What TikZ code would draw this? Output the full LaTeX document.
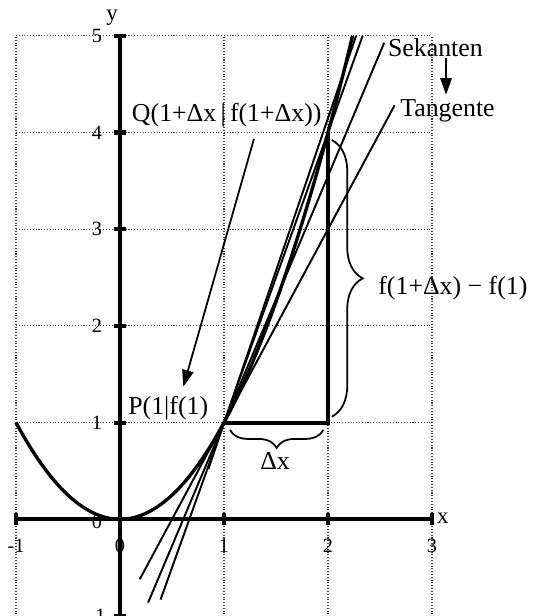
\documentclass[tikz,border=0pt]{standalone}
\usepackage{fontspec}
\setmainfont{Liberation Serif}
\usetikzlibrary{arrows.meta,decorations.pathreplacing}
\begin{document}
\begin{tikzpicture}[x=2.08cm,y=1.934cm,
  gridline/.style={densely dotted, line width=0.6pt, black!75},
  axisline/.style={line width=2.3pt},
  tickbar/.style={line width=2.3pt},
  curve/.style={line width=1.9pt},
  thinline/.style={line width=1.1pt},
  thickline/.style={line width=2.3pt},
  ticklab/.style={font=\fontsize{11.5}{13}\selectfont, inner sep=0pt},
  axlab/.style={font=\fontsize{13}{15}\selectfont, inner sep=0pt},
  lab/.style={font=\fontsize{14.7}{17}\selectfont, inner sep=0pt, anchor=base west},
  arr/.style={line width=1pt, -{Triangle[length=9.5pt,width=6.5pt]}},
  bracestyle/.style={decorate, line width=1pt}
]
\useasboundingbox (-1.1538,-1.0) rectangle (3.971,5.370);
% grid
\foreach \i in {-1,0,1,2,3} \draw[gridline] (\i,-1.1) -- (\i,5);
\foreach \j in {1,...,5} \draw[gridline] (-1,\j) -- (3,\j);
% axes
\draw[axisline] (-1,0) -- (3,0);
\draw[axisline] (0,-1) -- (0,5);
\foreach \i in {-1,1,2,3} \draw[tickbar] ([yshift=-0.12cm]\i,0) -- ([yshift=0.12cm]\i,0);
\foreach \j in {-1,1,2,3,4,5} \draw[tickbar] ([xshift=-0.12cm]0,\j) -- ([xshift=0.12cm]0,\j);
% tick labels
\foreach \i in {-1,0,1,2,3} \node[ticklab] (xl\i) at (\i,-0.276) {\i};
\foreach \j in {-1,1,2,3,4,5} \node[ticklab] (yl\j) at (-0.221,\j) {\j};
\node[ticklab] (yl0) at (-0.221,-0.03) {0};
\node[axlab] (xlab) at (3.103,0.013) {x};
\node[axlab] (ylab) at (-0.077,5.187) {y};
% parabola
\draw[curve] plot[domain=-1:2.236, samples=120] (\x,{\x*\x});
% tangent and secants
\draw[thinline] (0.19,-0.62) -- (2.64,4.28);
\draw[thinline] (0.27,-0.862) -- (2.54,4.927);
\draw[thinline] (0.39,-0.83) -- (2.333,5);
\draw[thinline] (0.85,0.52) -- (2.27,5);
% difference triangle
\draw[thickline] (1,1) -- (2,1) -- (2,4);
% braces
\draw[bracestyle, decoration={brace, amplitude=0.36cm}] (1.955,0.924) -- (1.058,0.924);
\draw[bracestyle, decoration={brace, amplitude=0.62cm}] (2.036,3.922) -- (2.036,1.061);
% labels
\node[lab] (qlab) at (0.112,4.112) {Q(1+Δx\,|\,f(1+Δx))};
\node[lab] (plab) at (0.077,1.079) {P(1|f(1)};
\node[lab] (sek) at (2.574,4.784) {Sekanten};
\node[lab] (tan) at (2.692,4.163) {Tangente};
\node[lab] (dfl) at (2.481,2.320) {f(1+Δx) − f(1)};
\node[lab] (dxl) at (1.346,0.517) {Δx};
% arrows
\coordinate (s1) at (3.135,4.77);
\coordinate (s2) at (3.135,4.39);
\draw[arr] (s1) -- (s2);
\coordinate (q1) at (1.288,3.933);
\coordinate (p1) at (0.609,1.371);
\draw[arr] (q1) -- (p1);
\end{tikzpicture}
\end{document}
